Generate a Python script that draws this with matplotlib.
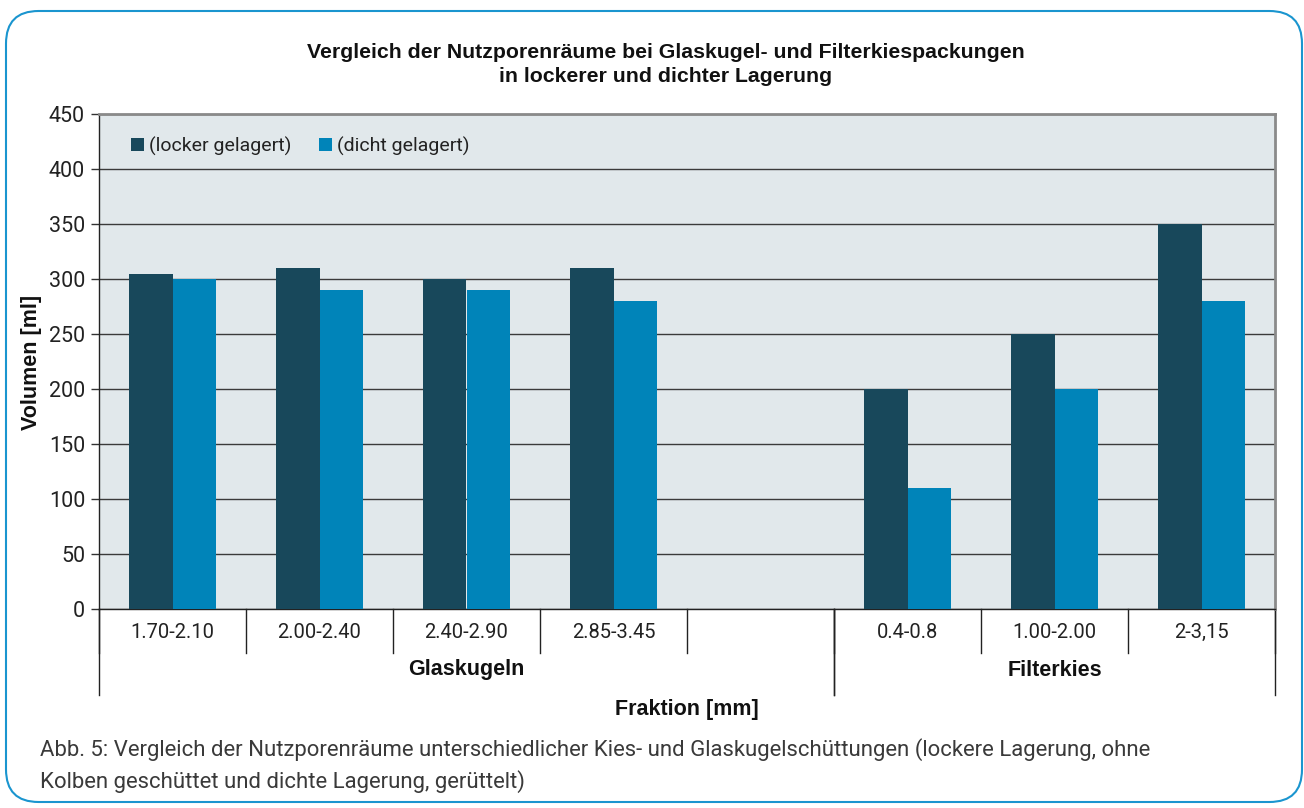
"""Nutzporenraum comparison: Glaskugeln vs. Filterkies, locker/dicht gelagert."""
import numpy as np
import matplotlib
matplotlib.use("Agg")
import matplotlib.pyplot as plt
from matplotlib.patches import FancyBboxPatch
from matplotlib.lines import Line2D

plt.rcParams["font.family"] = ["Roboto", "DejaVu Sans"]
BOLD_FONT = ["Liberation Sans", "DejaVu Sans"]

CATEGORIES = ["1.70-2.10", "2.00-2.40", "2.40-2.90", "2.85-3.45", "", "0.4-0.8", "1.00-2.00", "2-3,15"]
GROUPS = ["Glaskugeln", "Filterkies"]
GROUP_SPANS = [(0, 5), (5, 8)]
LOCKER = [305, 310, 300, 310, np.nan, 200, 250, 350]
DICHT = [300, 290, 290, 280, np.nan, 110, 200, 280]
SERIES_NAMES = ["(locker gelagert)", "(dicht gelagert)"]
Y_TICKS = list(range(0, 451, 50))

DARK = "#18485b"
LIGHT = "#0084b9"
BG = "#e1e8eb"
FRAME = "#1a95cf"

fig = plt.figure(figsize=(13.04, 8.08), dpi=100)
W, H = 1304, 808

# rounded outer frame
frame = FancyBboxPatch((6 / W, 6 / H), 1296 / W, 791 / H,
                       boxstyle="round,pad=0,rounding_size=0.025",
                       transform=fig.transFigure, facecolor="none",
                       edgecolor=FRAME, linewidth=1.5, mutation_aspect=W / H, zorder=-1)
fig.patches.append(frame)

ax = fig.add_axes([99 / W, 1 - 609 / H, (1275 - 99) / W, (609 - 114) / H])
ax.set_facecolor(BG)

x = np.arange(len(CATEGORIES))
bw = 0.293
ax.bar(x - bw / 2, LOCKER, bw, color=DARK, label=SERIES_NAMES[0], zorder=3)
ax.bar(x + bw / 2, DICHT, bw, color=LIGHT, label=SERIES_NAMES[1], zorder=3)

ax.set_xlim(-0.5, len(CATEGORIES) - 0.5)
ax.set_ylim(0, 450)
ax.set_yticks(Y_TICKS)
ax.set_yticklabels([str(v) for v in Y_TICKS], fontsize=15.5, color="#222222")
ax.tick_params(axis="y", length=6, width=1, color="#333333", pad=4)
ax.set_xticks([])
ax.grid(axis="y", color="#3a3a3a", linewidth=1, zorder=1)

for side in ["top", "right"]:
    ax.spines[side].set_color("#8a8a8a")
    ax.spines[side].set_linewidth(2)
for side in ["left", "bottom"]:
    ax.spines[side].set_color("#222222")
    ax.spines[side].set_linewidth(1)

# category axis: labels and separators
trans = ax.get_xaxis_transform()
tick_drop = -(653 - 609) / 495
group_drop = -(695 - 609) / 495
for i, lab in enumerate(CATEGORIES):
    ax.text(i, -(632 - 609) / 495, lab, transform=trans, ha="center", va="center",
            fontsize=14.5, color="#222222")
for b in np.arange(len(CATEGORIES) + 1) - 0.5:
    ax.add_line(Line2D([b, b], [0, tick_drop], transform=trans, color="#222222",
                       linewidth=1, clip_on=False))
for (s, e), name in zip(GROUP_SPANS, GROUPS):
    for b in (s - 0.5, e - 0.5):
        ax.add_line(Line2D([b, b], [0, group_drop], transform=trans, color="#222222",
                           linewidth=1, clip_on=False))
    ax.text((s + e - 1) / 2, -(670 - 609) / 495, name, transform=trans, ha="center",
            va="center", fontsize=15.5, fontweight="bold", color="#111111", family=BOLD_FONT)

fig.text(687 / W, 1 - 710 / H, "Fraktion [mm]", ha="center", va="center",
         fontsize=15.5, fontweight="bold", color="#111111", family=BOLD_FONT)
fig.text(31 / W, 1 - 362 / H, "Volumen [ml]", ha="center", va="center", rotation=90,
         fontsize=15.5, fontweight="bold", color="#111111", family=BOLD_FONT)

fig.text(666 / W, 1 - 52 / H, "Vergleich der Nutzporenräume bei Glaskugel- und Filterkiespackungen",
         ha="center", va="center", fontsize=15.3, fontweight="bold", color="#111111",
         family=BOLD_FONT)
fig.text(666 / W, 1 - 76 / H, "in lockerer und dichter Lagerung",
         ha="center", va="center", fontsize=15.3, fontweight="bold", color="#111111",
         family=BOLD_FONT)

leg = ax.legend(loc="upper left", bbox_to_anchor=(0.012, 0.99), ncol=2, frameon=False,
                fontsize=14, handlelength=0.7, handleheight=0.7, handletextpad=0.25,
                columnspacing=1.4, labelcolor="#222222")

fig.text(40 / W, 1 - 750 / H,
         "Abb. 5: Vergleich der Nutzporenräume unterschiedlicher Kies- und Glaskugelschüttungen "
         "(lockere Lagerung, ohne", ha="left", va="center", fontsize=15.9, color="#3a3a3a")
fig.text(40 / W, 1 - 782 / H, "Kolben geschüttet und dichte Lagerung, gerüttelt)",
         ha="left", va="center", fontsize=15.9, color="#3a3a3a")

fig.savefig("out.png", dpi=100)
